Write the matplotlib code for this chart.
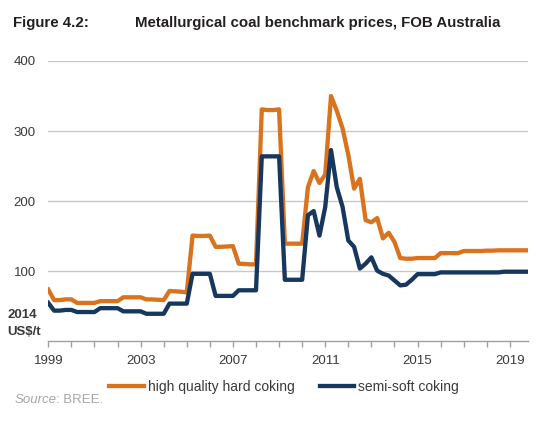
import matplotlib
matplotlib.use("Agg")
import matplotlib.pyplot as plt
import numpy as np

plt.rcParams['font.family'] = ['Liberation Sans', 'DejaVu Sans']

# Quarterly data, 1999Q1 .. 2019Q4 (2014 US$/t)
years = list(range(1999, 2020))
hard_coking = [
    74, 59, 59, 60,        # 1999
    60, 55, 55, 55,        # 2000
    55, 57.5, 57.5, 57.5,  # 2001
    57.5, 63, 63, 63,      # 2002
    63, 60, 60, 59.5,      # 2003
    59, 72, 71.5, 71,      # 2004
    70, 151, 150.5, 150.5, # 2005
    151, 135, 135, 135.5,  # 2006
    136, 111, 110.5, 110,  # 2007
    110, 331, 330, 330,    # 2008
    331, 139.5, 139.5, 139.5,  # 2009
    139.5, 220, 243, 226,  # 2010
    238, 350, 329, 304,    # 2011
    266, 218, 232, 173,    # 2012
    170, 176, 147, 155,    # 2013
    142, 119, 118, 118,    # 2014
    119, 119, 119, 119,    # 2015
    126, 126, 126, 126,    # 2016
    129, 129, 129, 129,    # 2017
    129.5, 129.5, 130, 130,  # 2018
    130, 130, 130, 130,    # 2019
]
semi_soft = [
    55, 44, 44, 45,        # 1999
    45, 42, 42, 42,        # 2000
    42, 47.5, 47.5, 47.5,  # 2001
    47.5, 43, 43, 43,      # 2002
    43, 39.5, 39.5, 39.5,  # 2003
    39.5, 54, 54, 54,      # 2004
    54, 96.5, 96.5, 96.5,  # 2005
    96.5, 65, 65, 65,      # 2006
    65, 73, 73, 73,        # 2007
    73, 264, 264, 264,     # 2008
    264, 88, 88, 88,       # 2009
    88, 180, 186, 151,     # 2010
    192, 273, 220, 192,    # 2011
    144, 135, 104, 111,    # 2012
    120, 101, 96.5, 94,    # 2013
    87, 80, 81, 88,        # 2014
    96, 96, 96, 96,        # 2015
    98.5, 98.5, 98.5, 98.5,  # 2016
    98.5, 98.5, 98.5, 98.5,  # 2017
    98.5, 98.5, 98.5, 99.5,  # 2018
    99.5, 99.5, 99.5, 99.5,  # 2019
]
series_names = ["high quality hard coking", "semi-soft coking"]
yticks = [100, 200, 300, 400]
xtick_labels = ["1999", "2003", "2007", "2011", "2015", "2019"]

t = np.array([y + q / 4 for y in years for q in range(4)])

ORANGE = "#D9731D"
NAVY = "#17375E"
TXT = "#3A3A3A"

fig = plt.figure(figsize=(5.46, 4.22), dpi=100)
ax = fig.add_axes([0.0885, 0.1908, 0.8791, 0.6647])

ax.plot(t, hard_coking, color=ORANGE, lw=3.1, solid_joinstyle='round',
        label=series_names[0], zorder=3)
ax.plot(t, semi_soft, color=NAVY, lw=3.1, solid_joinstyle='round',
        label=series_names[1], zorder=4)

ax.set_xlim(1999, 2019.8)
ax.set_ylim(0, 400)
ax.set_yticks(yticks)
ax.set_yticklabels([str(v) for v in yticks])
ax.yaxis.grid(True, color="#C8C8C8", lw=1)
ax.set_axisbelow(True)
ax.tick_params(axis='y', length=0, pad=9, labelsize=9.5, labelcolor=TXT)

ax.set_xticks(years)
ax.set_xticklabels([str(y) if str(y) in xtick_labels else "" for y in years])
ax.tick_params(axis='x', direction='out', length=4, width=1, color="#A0A0A0",
               pad=6, labelsize=9.5, labelcolor=TXT)

for s in ['top', 'right', 'left']:
    ax.spines[s].set_visible(False)
ax.spines['bottom'].set_color("#A0A0A0")
ax.spines['bottom'].set_linewidth(1)

fig.text(7 / 546, 1 - 315 / 422, "2014", fontsize=9.5, fontweight='bold',
         color=TXT, ha='left', va='center')
fig.text(7 / 546, 1 - 332 / 422, "US$/t", fontsize=9.5, fontweight='bold',
         color=TXT, ha='left', va='center')

fig.text(13 / 546, 1 - 23 / 422, "Figure 4.2:", fontsize=10.8, fontweight='bold',
         color="#231F20", ha='left', va='center')
fig.text(135 / 546, 1 - 23 / 422, "Metallurgical coal benchmark prices, FOB Australia",
         fontsize=10.8, fontweight='bold', color="#231F20", ha='left', va='center')

fig.legend(loc='center', bbox_to_anchor=(284 / 546, 1 - 387 / 422), ncol=2,
           frameon=False, fontsize=10, handlelength=2.5, handletextpad=0.3,
           columnspacing=1.8, labelcolor=TXT)

src = fig.text(15 / 546, 1 - 403 / 422, "Source", fontsize=9.5, style='italic',
               color="#A6A6A6", ha='left', va='baseline')
fig.canvas.draw()
bb = src.get_window_extent()
fig.text((bb.x1 - 1) / fig.bbox.width, 1 - 403 / 422, ": BREE.", fontsize=9.5,
         color="#A6A6A6", ha='left', va='baseline')

fig.savefig("out.png", dpi=100)
